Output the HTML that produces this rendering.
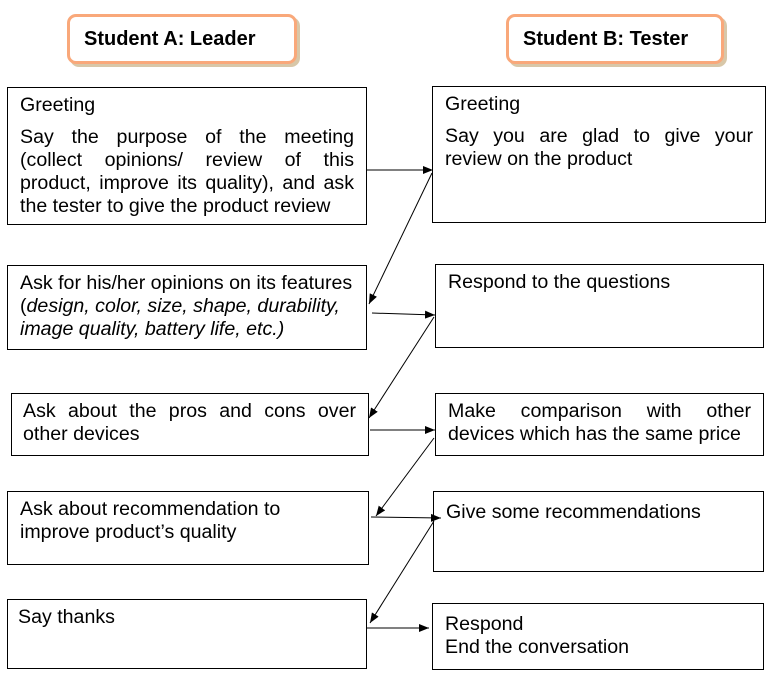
<!DOCTYPE html>
<html><head><meta charset="utf-8"><style>
body{margin:0;width:771px;height:676px;background:#fff;position:relative;overflow:hidden;font-family:"Liberation Sans",Arial,sans-serif;color:#000}
.box{position:absolute;border:1px solid #000;box-sizing:border-box;font-size:19.6px;line-height:23px;padding:6px 12px 5px;white-space:nowrap}
.l{display:block;text-align:justify;text-align-last:justify;white-space:normal}
.e{display:block}
.hdr{position:absolute;border:3px solid #f9a87a;border-radius:9px;box-sizing:border-box;background:#fff;box-shadow:3px 3px 0 #d8c7a8;font-weight:bold;font-size:20px;padding:11px 14px 0;white-space:nowrap}
svg{position:absolute;left:0;top:0}
</style></head><body>
<div class="hdr" style="left:67px;top:14px;width:230px;height:50px">Student A: Leader</div>
<div class="hdr" style="left:506px;top:14px;width:218px;height:50px">Student B: Tester</div>

<div class="box" style="left:7px;top:87px;width:360px;height:138px"><span class="e" style="margin-bottom:9px">Greeting</span><span class="l">Say the purpose of the meeting</span><span class="l">(collect opinions/ review of this</span><span class="l">product, improve its quality), and ask</span><span class="e">the tester to give the product review</span></div>
<div class="box" style="left:7px;top:265px;width:360px;height:85px">Ask for his/her opinions on its features<br>(<i>design, color, size, shape, durability,</i><br><i>image quality, battery life, etc.)</i></div>
<div class="box" style="left:11px;top:393px;width:358px;height:63px;padding-left:11px"><span class="l">Ask about the pros and cons over</span><span class="e">other devices</span></div>
<div class="box" style="left:7px;top:491px;width:362px;height:74px">Ask about recommendation to<br>improve product’s quality</div>
<div class="box" style="left:7px;top:599px;width:360px;height:70px;padding-top:6px;padding-left:10px">Say thanks</div>

<div class="box" style="left:432px;top:86px;width:334px;height:137px"><span class="e" style="margin-bottom:9px">Greeting</span><span class="l">Say you are glad to give your</span><span class="e">review on the product</span></div>
<div class="box" style="left:435px;top:264px;width:329px;height:84px">Respond to the questions</div>
<div class="box" style="left:435px;top:393px;width:329px;height:63px"><span class="l">Make comparison with other</span><span class="e">devices which has the same price</span></div>
<div class="box" style="left:433px;top:491px;width:331px;height:81px;padding-top:9px">Give some recommendations</div>
<div class="box" style="left:432px;top:603px;width:332px;height:67px;padding-top:9px">Respond<br>End the conversation</div>

<svg width="771" height="676">
<defs><marker id="a" markerWidth="10" markerHeight="8" refX="10" refY="4" orient="auto" markerUnits="userSpaceOnUse"><path d="M0,0L10,4L0,8z" fill="#000"/></marker></defs>
<g stroke="#000" stroke-width="1" fill="none" marker-end="url(#a)">
<line x1="367" y1="170" x2="433" y2="170"/>
<line x1="432" y1="173" x2="369" y2="304"/>
<line x1="372" y1="313" x2="435" y2="315"/>
<line x1="434" y1="317" x2="369" y2="418"/>
<line x1="370" y1="430" x2="435" y2="430"/>
<line x1="434" y1="438" x2="376" y2="516"/>
<line x1="371" y1="517" x2="441" y2="518"/>
<line x1="434" y1="521" x2="370" y2="623"/>
<line x1="367" y1="628" x2="429" y2="628"/>
</g></svg>
</body></html>
